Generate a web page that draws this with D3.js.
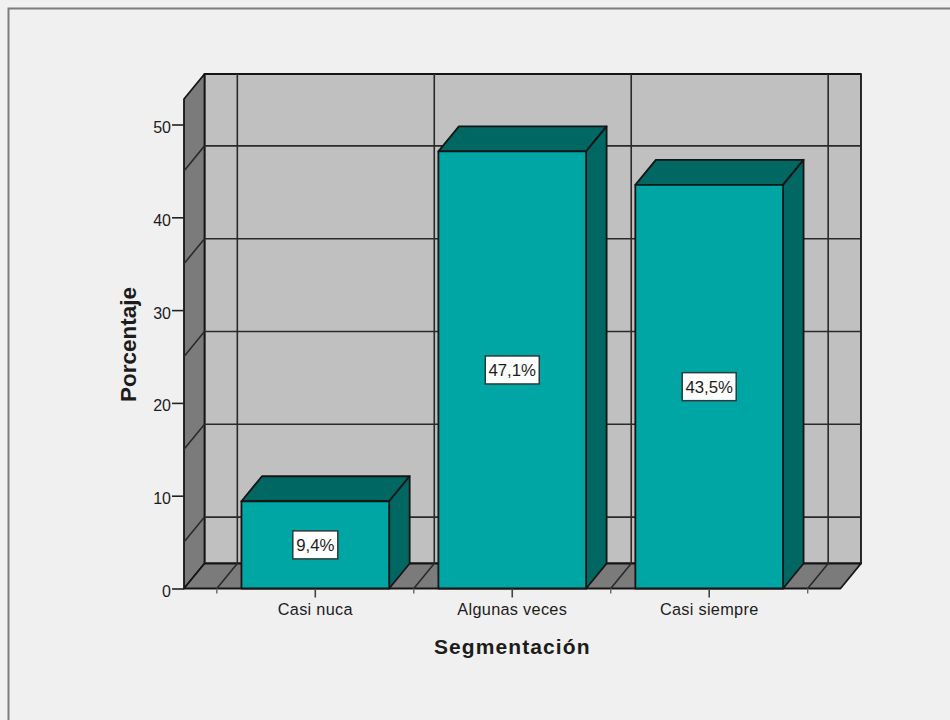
<!DOCTYPE html>
<html lang="es">
<head>
<meta charset="utf-8">
<script src="https://cdn.jsdelivr.net/npm/d3@7"></script>
<style>
  html, body { margin: 0; padding: 0; background: #f0f0f0; }
  svg { display: block; }
  text { font-family: "Liberation Sans", Arial, sans-serif; fill: #1c1c1c; }
</style>
</head>
<body>
<svg id="chart" width="950" height="720"></svg>
<script>
// Frequency of each segmentation answer, as percentages
const categories = ["Casi nuca", "Algunas veces", "Casi siempre"];
const percentages = [9.4, 47.1, 43.5];
const percentLabels = ["9,4%", "47,1%", "43,5%"];
const yTicks = [0, 10, 20, 30, 40, 50];
const yGridValues = [5, 15, 25, 35, 45];

const axisTitleX = "Segmentación";
const axisTitleY = "Porcentaje";

const svg = d3.select("#chart");

// Plot frame of the front plane and the oblique offset of the 3D box
const plotLeft = 184, plotRight = 840.5, plotBottom = 588.5;
const depthX = 20.5, depthY = -25;

const x = d3.scaleBand()
  .domain(categories)
  .range([plotLeft, plotRight])
  .paddingInner(0)
  .paddingOuter(1 / 6);

const y = d3.scaleLinear()
  .domain([0, 50])
  .range([plotBottom, 124.5]);

const yMax = y.invert(99);
const barWidth = x.bandwidth() * 0.75;
const separators = categories.map(c => x(c)).concat(x(categories[2]) + x.bandwidth());

const line = d3.line();
const poly = (pts, fill, sw = 1.8) => svg.append("path")
  .attr("d", line(pts) + "Z")
  .attr("fill", fill)
  .attr("stroke", "#151515")
  .attr("stroke-width", sw)
  .attr("stroke-linejoin", "round");

// Outer chart frame: only the top and left edges fall inside the window
svg.append("path")
  .attr("d", "M8.5,720V8.5H950")
  .attr("fill", "none")
  .attr("stroke", "#7d7d7d")
  .attr("stroke-width", 2);

// Back wall, left wall and floor
const plotTop = y(yMax);
poly([[plotLeft + depthX, plotTop + depthY], [plotRight + depthX, plotTop + depthY],
      [plotRight + depthX, plotBottom + depthY], [plotLeft + depthX, plotBottom + depthY]], "#c0c0c0");
poly([[plotLeft, plotTop], [plotLeft + depthX, plotTop + depthY],
      [plotLeft + depthX, plotBottom + depthY], [plotLeft, plotBottom]], "#7b7b7b");
poly([[plotLeft, plotBottom], [plotLeft + depthX, plotBottom + depthY],
      [plotRight + depthX, plotBottom + depthY], [plotRight, plotBottom]], "#7b7b7b");

// Gridlines on the walls at the minor positions
const grid = svg.append("g")
  .attr("fill", "none")
  .attr("stroke", "#2a2a2a")
  .attr("stroke-width", 1.6);

yGridValues.forEach(v => {
  grid.append("path").attr("d", line([
    [plotLeft, y(v)],
    [plotLeft + depthX, y(v) + depthY],
    [plotRight + depthX, y(v) + depthY]
  ]));
});

separators.forEach(sx => {
  grid.append("path").attr("d", line([
    [sx, plotBottom],
    [sx + depthX, plotBottom + depthY],
    [sx + depthX, plotTop + depthY]
  ]));
});

// Bars: top face, side face, then the front face
categories.forEach((c, i) => {
  const x0 = x(c) + (x.bandwidth() - barWidth) / 2;
  const x1 = x0 + barWidth;
  const yv = y(percentages[i]);
  poly([[x0, yv], [x0 + depthX, yv + depthY], [x1 + depthX, yv + depthY], [x1, yv]], "#006763");
  poly([[x1, yv], [x1 + depthX, yv + depthY], [x1 + depthX, plotBottom + depthY], [x1, plotBottom]], "#006763");
  poly([[x0, yv], [x1, yv], [x1, plotBottom], [x0, plotBottom]], "#00a6a3");
});

// Value labels in white boxes centred on each bar's front face
categories.forEach((c, i) => {
  const cx = x(c) + x.bandwidth() / 2;
  const cy = (y(percentages[i]) + plotBottom) / 2;
  const boxW = percentLabels[i].length > 4 ? 54 : 45;
  const boxH = 28;
  svg.append("rect")
    .attr("x", cx - boxW / 2)
    .attr("y", cy - boxH / 2)
    .attr("width", boxW)
    .attr("height", boxH)
    .attr("fill", "#fff")
    .attr("stroke", "#2b3b3b")
    .attr("stroke-width", 1.5);
  svg.append("text")
    .attr("x", cx)
    .attr("y", cy + 6.5)
    .attr("text-anchor", "middle")
    .attr("font-size", 16.8)
    .text(percentLabels[i]);
});

// Left axis
const yAxis = svg.append("g")
  .attr("transform", `translate(${plotLeft},0)`)
  .call(d3.axisLeft(y).tickValues(yTicks).tickSize(12).tickPadding(1));
yAxis.select(".domain").remove();
yAxis.selectAll("line").attr("stroke", "#222").attr("stroke-width", 1.6);
yAxis.selectAll("text").attr("font-size", 16).attr("dy", "0.5em").style("fill", "#1c1c1c");
yAxis.attr("font-family", null);

// Bottom axis: long ticks under the bars, short ones at the separators
const xAxis = svg.append("g")
  .attr("transform", `translate(0,${plotBottom})`)
  .call(d3.axisBottom(x).tickSize(9).tickPadding(0));
xAxis.select(".domain").remove();
xAxis.selectAll("line").attr("stroke", "#444").attr("stroke-width", 1.6);
xAxis.selectAll("text")
  .attr("font-size", 16.3)
  .attr("letter-spacing", 0.3)
  .attr("y", 0)
  .attr("dy", 26.5)
  .style("fill", "#1c1c1c");
xAxis.attr("font-family", null);

svg.append("g").selectAll("line")
  .data(separators)
  .join("line")
  .attr("x1", d => d).attr("x2", d => d)
  .attr("y1", plotBottom).attr("y2", plotBottom + 5)
  .attr("stroke", "#666")
  .attr("stroke-width", 1.4);

// Axis titles
svg.append("text")
  .attr("x", (plotLeft + plotRight) / 2)
  .attr("y", 654)
  .attr("text-anchor", "middle")
  .attr("font-size", 21)
  .attr("font-weight", "bold")
  .attr("letter-spacing", 1.1)
  .text(axisTitleX);

svg.append("text")
  .attr("transform", "translate(135.5,344.5) rotate(-90)")
  .attr("text-anchor", "middle")
  .attr("font-size", 22.5)
  .attr("font-weight", "bold")
  .text(axisTitleY);
</script>
</body>
</html>
